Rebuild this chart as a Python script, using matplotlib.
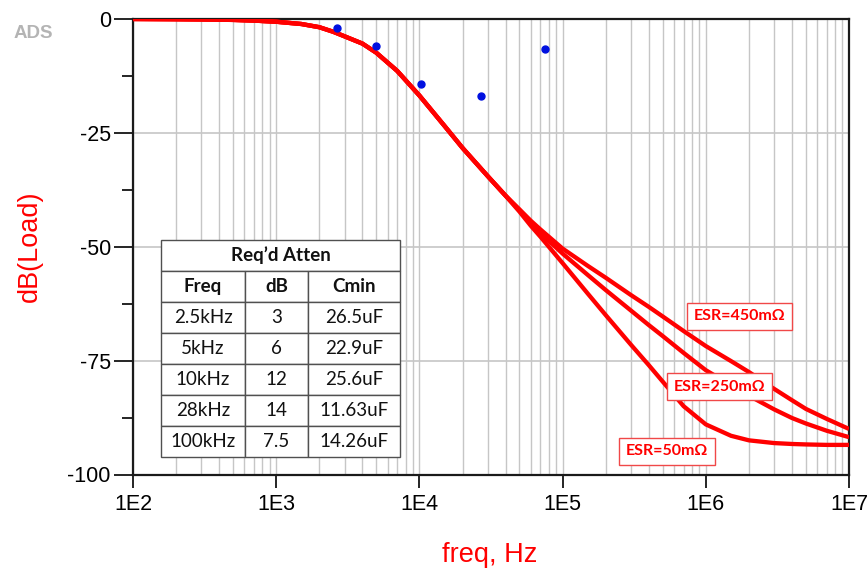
import matplotlib
matplotlib.use("Agg")
import matplotlib.pyplot as plt
from matplotlib.ticker import FixedLocator, LogLocator, NullFormatter

# frequency points (Hz)
freq = [1e2, 2e2, 3e2, 5e2, 7e2, 1e3, 1.5e3, 2e3, 2.5e3, 3e3, 4e3, 5e3, 7e3,
        1e4, 1.5e4, 2e4, 3e4, 4e4, 5e4, 6e4, 7e4, 1e5, 1.5e5, 2e5, 3e5, 4e5,
        5e5, 7e5, 1e6, 1.5e6, 2e6, 3e6, 4e6, 5e6, 7e6, 1e7]

# shared low-frequency part of the three curves (dB)
db_low = [0, -0.05, -0.1, -0.2, -0.35, -0.6, -1.1, -1.8, -2.8, -3.8, -5.4,
          -7.4, -11.4, -16.8, -23.5, -28.3, -34.5, -38.8]

db_450 = db_low + [-41.8, -44.3, -46.2, -50.4, -54.2, -56.8, -60.6, -63.2,
                   -65.3, -68.5, -71.8, -75.1, -77.5, -81.2, -83.7, -85.6,
                   -87.8, -90.0]
db_250 = db_low + [-42.0, -44.9, -47.0, -51.5, -56.2, -59.5, -64.0, -67.2,
                   -69.6, -73.3, -77.1, -80.4, -82.7, -85.7, -87.6, -88.8,
                   -90.4, -91.8]
db_50 = db_low + [-42.3, -45.4, -47.8, -53.6, -60.3, -65.0, -71.5, -76.0,
                  -79.6, -85.0, -89.0, -91.5, -92.5, -93.1, -93.3, -93.4,
                  -93.5, -93.5]

# required attenuation markers
spec_freq = [2.66e3, 5.0e3, 1.03e4, 2.7e4, 7.5e4]
spec_db = [-1.9, -6.0, -14.3, -17.0, -6.5]

# table contents
tbl_title = "Req\u2019d Atten"
tbl_cols = ["Freq", "dB", "Cmin"]
tbl_freq = ["2.5kHz", "5kHz", "10kHz", "28kHz", "100kHz"]
tbl_db = ["3", "6", "12", "14", "7.5"]
tbl_cmin = ["26.5uF", "22.9uF", "25.6uF", "11.63uF", "14.26uF"]

esr_labels = ["ESR=450m\u03a9", "ESR=250m\u03a9", "ESR=50m\u03a9"]
esr_pos = [(1.71e6, -65.3), (1.24e6, -80.7), (5.36e5, -94.9)]

W, H = 868, 576
fig = plt.figure(figsize=(W / 100, H / 100), dpi=100)
ax = fig.add_axes([133 / W, 1 - 474.5 / H, (849 - 133) / W, (474.5 - 19) / H])

red = "#ff0000"
for db in (db_450, db_250, db_50):
    ax.plot(freq, db, color=red, lw=3.1, solid_capstyle="butt",
            solid_joinstyle="round", zorder=3)
ax.plot(spec_freq, spec_db, "o", color="#0010e0", ms=5, zorder=4)

ax.set_xscale("log")
ax.set_xlim(1e2, 1e7)
ax.set_ylim(-100, 0)

ax.xaxis.set_major_locator(FixedLocator([1e2, 1e3, 1e4, 1e5, 1e6, 1e7]))
ax.set_xticklabels(["1E2", "1E3", "1E4", "1E5", "1E6", "1E7"])
ax.xaxis.set_minor_locator(LogLocator(base=10, subs=range(2, 10)))
ax.xaxis.set_minor_formatter(NullFormatter())
ax.set_yticks([0, -25, -50, -75, -100])
ax.set_yticklabels(["0", "-25", "-50", "-75", "-100"])
ax.yaxis.set_minor_locator(FixedLocator([-12.5, -37.5, -62.5, -87.5]))

ax.grid(which="both", axis="x", color="#c6c6c6", lw=1.0, zorder=0)
ax.grid(which="major", axis="y", color="#c6c6c6", lw=1.2, zorder=0)

ax.tick_params(axis="y", which="major", direction="out", length=14, width=1.2,
               labelsize=15.5, pad=2)
ax.tick_params(axis="y", which="minor", direction="out", length=8, width=1.2)
ax.tick_params(axis="x", which="major", direction="out", length=9, width=1.2,
               labelsize=15.5, pad=5)
ax.tick_params(axis="x", which="minor", length=0)
for lab in ax.get_xticklabels() + ax.get_yticklabels():
    lab.set_family(["Liberation Sans", "DejaVu Sans"])

for sp in ax.spines.values():
    sp.set_color("#1a1a1a")
    sp.set_linewidth(1.6)

ax.set_xlabel("freq, Hz", color=red, fontsize=19.5,
              family=["Liberation Sans", "DejaVu Sans"])
ax.set_ylabel("dB(Load)", color=red, fontsize=19.5,
              family=["Liberation Sans", "DejaVu Sans"])
ax.xaxis.label.set_va("center")
ax.yaxis.label.set_va("center")
ax.xaxis.set_label_coords(0.4986, -0.177)
ax.yaxis.set_label_coords(-0.144, 0.50)

for txt, (fx, fy) in zip(esr_labels, esr_pos):
    ax.text(fx, fy, txt, color=red, fontsize=11.5, fontweight="bold",
            family=["Lato", "DejaVu Sans"], ha="center", va="center", zorder=5,
            bbox=dict(boxstyle="square,pad=0.42", fc="white", ec="#f04848", lw=1))

fig.text(14 / W, 1 - 33 / H, "ADS", color="#b4b4b4", fontsize=13.5,
         fontweight="bold", ha="left", va="center",
         family=["Liberation Sans", "DejaVu Sans"])

# table as its own axes on top of the plot
tax = fig.add_axes([161 / W, 1 - 456.7 / H, 239 / W, 216.7 / H])
tax.axis("off")
edge = "#505050"
head = tax.table(cellText=[[tbl_title]], cellLoc="center", bbox=[0, 6 / 7, 1, 1 / 7])
body_rows = [tbl_cols] + [list(r) for r in zip(tbl_freq, tbl_db, tbl_cmin)]
colw = [84, 63, 92]
body = tax.table(cellText=body_rows, cellLoc="center",
                 colWidths=[c / sum(colw) for c in colw], bbox=[0, 0, 1, 6 / 7])
for tbl in (head, body):
    tbl.auto_set_font_size(False)
    for (r, c), cell in tbl.get_celld().items():
        cell.set_edgecolor(edge)
        cell.set_linewidth(1.0)
        cell.set_facecolor("white")
        t = cell.get_text()
        t.set_fontsize(13.5)
        t.set_family(["Lato", "DejaVu Sans"])
        t.set_color("#111111")
        if r == 0:
            t.set_fontweight("bold")

fig.savefig("out.png", dpi=100)
